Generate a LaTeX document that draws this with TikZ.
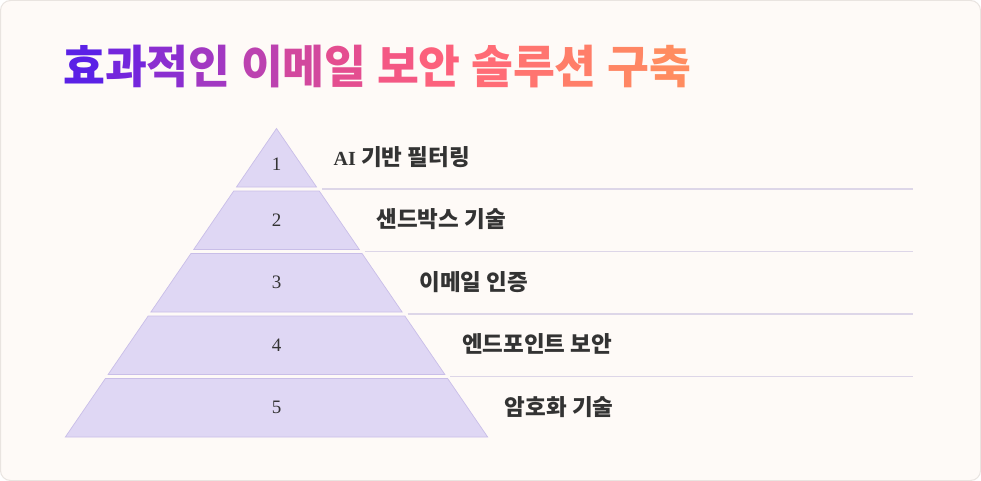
\documentclass[tikz,border=0pt]{standalone}
\usepackage{fontspec}
\newfontfamily\krfont{Noto Sans CJK KR}
\newfontfamily\numfont{Liberation Serif}
\usetikzlibrary{positioning}

\definecolor{cardbg}{HTML}{FEFAF7}
\definecolor{cardedge}{HTML}{E9E4E0}
\definecolor{layerfill}{HTML}{DFD7F4}
\definecolor{layeredge}{HTML}{C9BEE8}
\definecolor{sepgray}{HTML}{DDD6E8}
\definecolor{labeltext}{HTML}{333333}
% title gradient, one colour per syllable
\definecolor{t1}{HTML}{5B21E6}
\definecolor{t2}{HTML}{7426DC}
\definecolor{t3}{HTML}{8B2ED0}
\definecolor{t4}{HTML}{A238C2}
\definecolor{t5}{HTML}{BC42B0}
\definecolor{t6}{HTML}{D2489E}
\definecolor{t7}{HTML}{E44E90}
\definecolor{t8}{HTML}{F45884}
\definecolor{t9}{HTML}{FC617C}
\definecolor{t10}{HTML}{FF6C76}
\definecolor{t11}{HTML}{FF7570}
\definecolor{t12}{HTML}{FF7E69}
\definecolor{t13}{HTML}{FF8664}
\definecolor{t14}{HTML}{FF8C60}

\tikzset{
  layer/.style={fill=layerfill, draw=layeredge, line width=0.7pt},
  sepline/.style={draw=sepgray, line width=1.8pt},
  steplabel/.style={anchor=west, inner sep=0pt, text=labeltext,
    font=\krfont\bfseries\fontsize{22.5}{22.5}\selectfont},
  stepnum/.style={inner sep=0pt, text=labeltext, font=\numfont\fontsize{19}{19}\selectfont},
}

\begin{document}
\begin{tikzpicture}[x=1pt,y=-1pt]
		\useasboundingbox (0,0) rectangle (981,481);
		\fill[white] (0,0) rectangle (981,481);
		\draw[cardedge, fill=cardbg, rounded corners=10pt, line width=1pt] (0.5,0.5) rectangle (980.5,480.5);
		\node[anchor=base west, inner sep=0pt, font=\krfont\bfseries\fontsize{45.5}{45.5}\selectfont] (title) at (63,83.5)
			{\color{t1}효\color{t2}과\color{t3}적\color{t4}인 \color{t5}이\color{t6}메\color{t7}일 \color{t8}보\color{t9}안 \color{t10}솔\color{t11}루\color{t12}션 \color{t13}구\color{t14}축};
		\foreach \i/\txt in {1/{{\numfont\bfseries\fontsize{20}{20}\selectfont AI} 기반 필터링}, 2/{샌드박스 기술}, 3/{이메일 인증}, 4/{엔드포인트 보안}, 5/{암호화 기술}} {
			\pgfmathsetmacro\yb{187+62.5*(\i-1)}
			\pgfmathsetmacro\yt{\i==1 ? 128.5 : \yb-58.5}
			\pgfmathsetmacro\wb{0.6845*(\yb-128.5)}
			\pgfmathsetmacro\wt{0.6845*(\yt-128.5)}
			\pgfmathsetmacro\ny{\i==1 ? 164 : (\yt+\yb)/2}
			\draw[layer] (276.5-\wt,\yt) -- (276.5+\wt,\yt) -- (276.5+\wb,\yb) -- (276.5-\wb,\yb) -- cycle;
			\node[stepnum] (num\i) at (276.5,\ny) {\i};
			\node[steplabel] (label\i) at (276.5+\wb+17,{(\yt+\yb)/2-1}) {\txt};
			\ifnum\i<5
				\coordinate (sepL\i) at (276.5+\wb+5.5,\yb+2);
				\coordinate (sepR\i) at (913,\yb+2);
				\draw[sepline] (sepL\i) -- (sepR\i);
			\fi
		}
	\end{tikzpicture}
\end{document}
